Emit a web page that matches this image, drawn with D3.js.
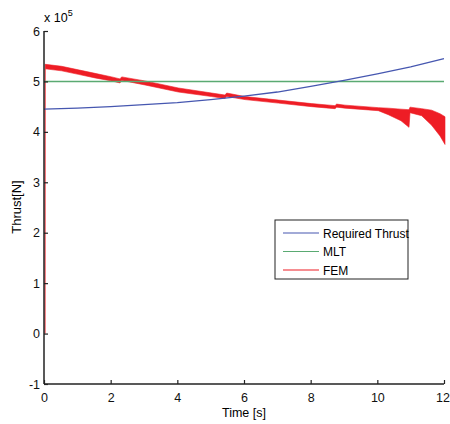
<!DOCTYPE html>
<html><head><meta charset="utf-8">
<script src="https://cdn.jsdelivr.net/npm/d3@7"></script>
<style>body{margin:0;background:#fff}svg{display:block}text{font-family:Arial,"Liberation Sans",sans-serif}</style>
</head><body><svg id="c" width="450" height="424"></svg>
<script>
// values in units of 1e5 N
const xTicks = [0,2,4,6,8,10,12];
const yTicks = [-1,0,1,2,3,4,5,6];
const reqT = [0,1,2,3,4,5,6,7,8,9,10,11,12];
const reqV = [4.45,4.47,4.50,4.54,4.58,4.64,4.71,4.79,4.90,5.02,5.15,5.29,5.45];
const mltT = [0,12];
const mltV = [5.0,5.0];
const femT  = [0,   0.005,0.5, 1,   1.5, 2,   2.25,2.3, 3,   4,   5,   5.4, 5.45,6,   7,   8,   8.7, 8.75,9,   10,  10.3,10.68,10.92,10.95,11.3,11.6,11.85,12];
const femLo = [0,   5.25,5.21,5.14,5.07,5.01,4.97,5.02,4.93,4.79,4.70,4.66,4.70,4.64,4.57,4.50,4.46,4.49,4.47,4.42,4.34,4.22, 4.09, 4.38, 4.32,4.13,3.92, 3.75];
const femHi = [0,   5.34,5.30,5.23,5.16,5.09,5.05,5.09,5.01,4.87,4.77,4.73,4.77,4.70,4.63,4.56,4.52,4.55,4.53,4.48,4.47,4.45, 4.44, 4.49, 4.46,4.43,4.36, 4.30];
const legendLabels = ["Required Thrust","MLT","FEM"];
const colors = ["#4657b0","#5aaa72","#ee1d25"];

const svg = d3.select("#c");
const x = d3.scaleLinear().domain([0,12]).range([44,444]);
const y = d3.scaleLinear().domain([-1,6]).range([384,31]);

// series
const line = d3.line().x(d=>x(d[0])).y(d=>y(d[1]));
const area = d3.area().x(d=>x(d[0])).y0(d=>y(d[1])).y1(d=>y(d[2]));
const fem = femT.map((t,i)=>[t,femLo[i],femHi[i]]);
svg.append("path").attr("d",area(fem)).attr("fill",colors[2]).attr("stroke",colors[2]).attr("stroke-width",0.6).attr("transform","translate(1,0)");
svg.append("path").attr("d",line(mltT.map((t,i)=>[t,mltV[i]]))).attr("fill","none").attr("stroke",colors[1]).attr("stroke-width",1.5);
svg.append("path").attr("d",line(reqT.map((t,i)=>[t,reqV[i]]))).attr("fill","none").attr("stroke",colors[0]).attr("stroke-width",1.3);

// axes
const fmt = d => String(d);
const xAxis = svg.append("g").attr("transform","translate(0,384)")
  .call(d3.axisBottom(x).tickValues(xTicks).tickSize(-4).tickPadding(9).tickFormat(fmt));
const yAxis = svg.append("g").attr("transform","translate(44,0)")
  .call(d3.axisLeft(y).tickValues(yTicks).tickSize(-4).tickPadding(4).tickFormat(fmt));
[xAxis,yAxis].forEach(g=>{
  g.select(".domain").attr("stroke","#222").attr("stroke-width",1.5);
  g.selectAll(".tick line").attr("stroke","#222").attr("stroke-width",1.2);
  g.selectAll("text").attr("font-size",12.5).attr("fill","#111").attr("font-family","Arial, 'Liberation Sans', sans-serif");
});
xAxis.selectAll(".tick text").filter(d=>d===12).attr("dx",-1.5);
yAxis.select(".domain").attr("d","M0,31V384");
xAxis.select(".domain").attr("d","M44,0H444");

// labels
svg.append("text").attr("x",244).attr("y",417).attr("text-anchor","middle").attr("font-size",12.5).text("Time [s]");
svg.append("text").attr("transform","translate(21,207) rotate(-90)").attr("text-anchor","middle").attr("font-size",13).text("Thrust[N]");
const ex = svg.append("text").attr("x",44).attr("y",22).attr("font-size",12.5);
ex.append("tspan").text("x 10");
ex.append("tspan").attr("dy",-6).attr("font-size",9).text("5");

// legend
const lg = svg.append("g").attr("transform","translate(275,220)");
lg.append("rect").attr("x",0).attr("y",0).attr("width",133).attr("height",59).attr("fill","#fff").attr("stroke","#222").attr("stroke-width",1);
legendLabels.forEach((l,i)=>{
  const yy = 13 + i*18.5;
  lg.append("line").attr("x1",8).attr("x2",44).attr("y1",yy).attr("y2",yy).attr("stroke",colors[i]).attr("stroke-width",1.2);
  lg.append("text").attr("x",48).attr("y",yy+4.5).attr("font-size",12).text(l);
});
</script></body></html>
